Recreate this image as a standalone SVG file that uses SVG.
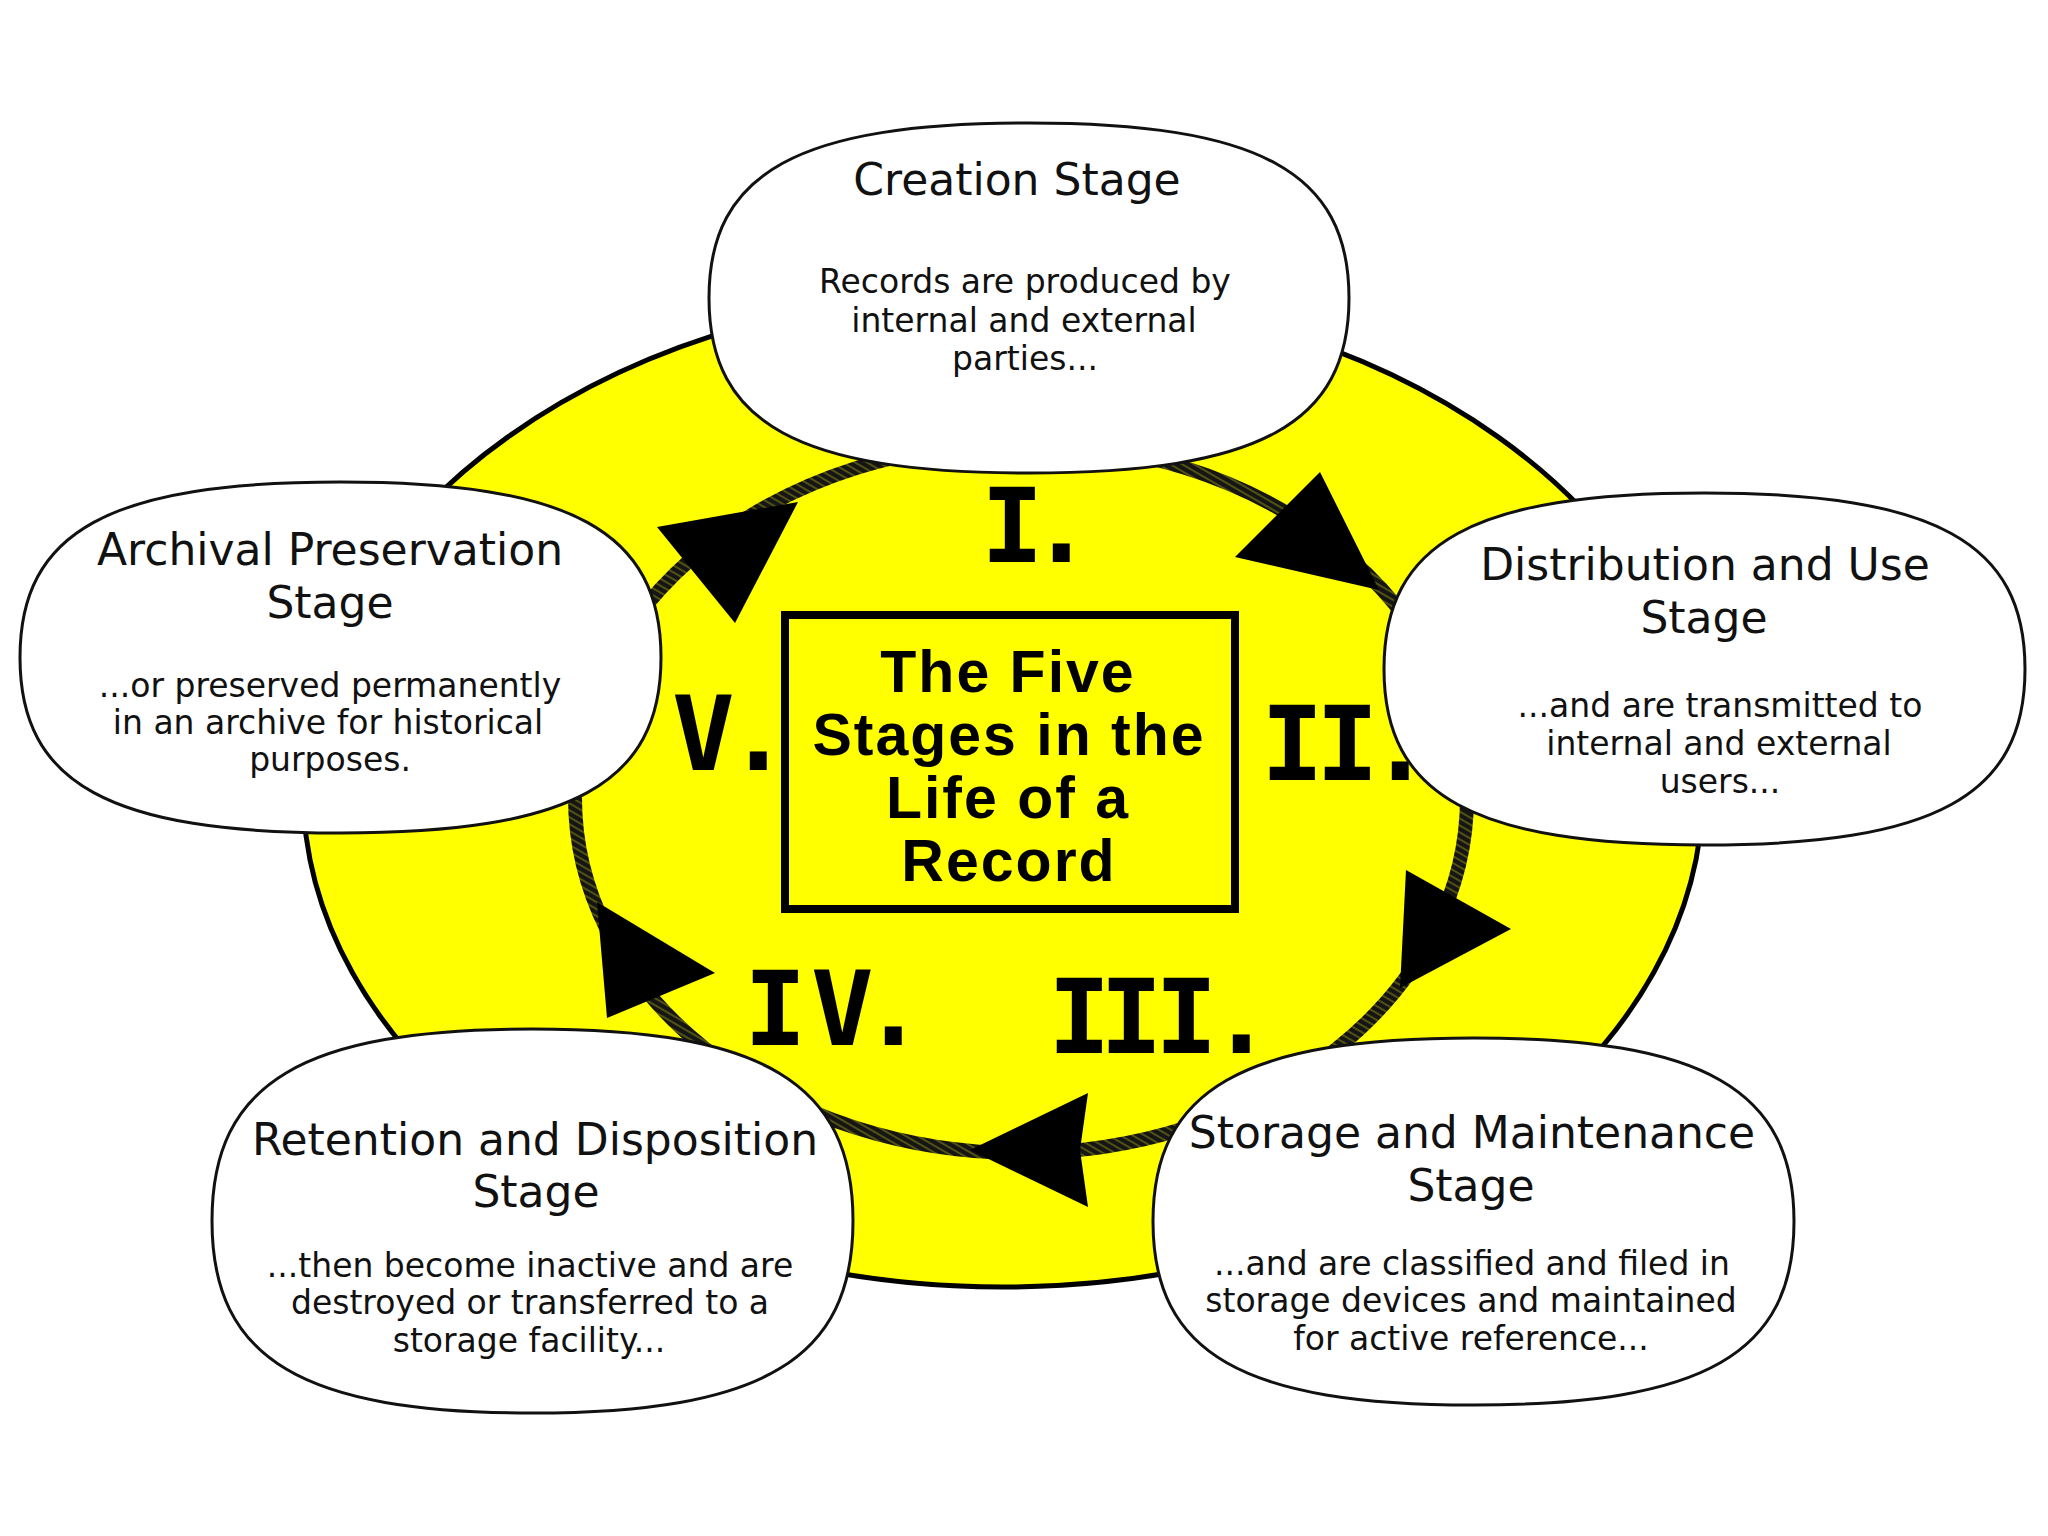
<svg xmlns="http://www.w3.org/2000/svg" width="2048" height="1536" viewBox="0 0 2048 1536">
<defs>
<pattern id="pencil" width="6" height="6" patternUnits="userSpaceOnUse" patternTransform="rotate(30)">
<rect width="6" height="6" fill="#151515"/>
<line x1="0" y1="3" x2="6" y2="3" stroke="#7a7a10" stroke-width="1.2"/>
</pattern>
</defs>
<style>
.bubble{fill:#fff;stroke:#111;stroke-width:3}
.title{font-family:"DejaVu Sans",Verdana,sans-serif;font-size:44px;fill:#111;text-anchor:middle}
.body{font-family:"DejaVu Sans",Verdana,sans-serif;font-size:33px;fill:#111;text-anchor:middle}
.num{font-family:"DejaVu Sans Mono",monospace;font-weight:bold;font-size:104px;fill:#000}
.center{font-family:"Liberation Sans",Arial,sans-serif;font-weight:bold;font-size:59px;letter-spacing:2px;fill:#000;text-anchor:middle}
.arrow{fill:#000}
</style>
<rect width="2048" height="1536" fill="#fff"/>
<g id="background">
<ellipse cx="1003" cy="789" rx="700" ry="498" fill="#ffff00" stroke="#000" stroke-width="5"/>
</g>
<g id="connectors">
<ellipse cx="1021" cy="798" rx="446" ry="355" fill="none" stroke="url(#pencil)" stroke-width="14"/>
<polygon class="arrow" points="1320,472 1235,557 1379,590"/>
<polygon class="arrow" points="1406,870 1511,929 1400,988"/>
<polygon class="arrow" points="1088,1093 970,1150 1088,1207 1080,1150"/>
<polygon class="arrow" points="597,902 715,973 607,1018"/>
<polygon class="arrow" points="657,527 798,502 735,623"/>
</g>
<g id="numerals">
<text class="num" x="981 1030" y="562">I.</text>
<text class="num" x="1261 1316 1369" y="780">II.</text>
<text class="num" x="1048 1100 1155 1210" y="1053">III.</text>
<text class="num" x="744 811 862" y="1045">IV.</text>
<text class="num" x="672 727" y="770">V.</text>
</g>
<g id="center-box">
<rect x="785" y="615" width="450" height="294" fill="#ffff00" stroke="#000" stroke-width="8"/>
<text class="center" x="1008" y="692">The Five</text>
<text class="center" x="1009" y="755">Stages in the</text>
<text class="center" x="1008" y="818">Life of a</text>
<text class="center" x="1009" y="881">Record</text>
</g>
<g id="creation">
<path class="bubble" d="M1029,123 C1259.4,123 1349,172 1349,298 C1349,424 1259.4,473 1029,473 C798.6,473 709,424 709,298 C709,172 798.6,123 1029,123Z"/>
<text class="title" x="1017" y="195">Creation Stage</text>
<text class="body" x="1025" y="293">Records are produced by</text>
<text class="body" x="1024" y="332">internal and external</text>
<text class="body" x="1025" y="370">parties...</text>
</g>
<g id="distribution">
<path class="bubble" d="M1704.5,493 C1935.3,493 2025,542.3 2025,669 C2025,795.7 1935.3,845 1704.5,845 C1473.7,845 1384,795.7 1384,669 C1384,542.3 1473.7,493 1704.5,493Z"/>
<text class="title" x="1705" y="580">Distribution and Use</text>
<text class="title" x="1704" y="633">Stage</text>
<text class="body" x="1720" y="717">...and are transmitted to</text>
<text class="body" x="1719" y="755">internal and external</text>
<text class="body" x="1720" y="793">users...</text>
</g>
<g id="storage">
<path class="bubble" d="M1473.5,1038 C1704.3,1038 1794,1089.4 1794,1221.5 C1794,1353.6 1704.3,1405 1473.5,1405 C1242.7,1405 1153,1353.6 1153,1221.5 C1153,1089.4 1242.7,1038 1473.5,1038Z"/>
<text class="title" x="1472" y="1148">Storage and Maintenance</text>
<text class="title" x="1471" y="1201">Stage</text>
<text class="body" x="1472" y="1275">...and are classified and filed in</text>
<text class="body" x="1471" y="1312">storage devices and maintained</text>
<text class="body" x="1471" y="1350">for active reference...</text>
</g>
<g id="retention">
<path class="bubble" d="M532.5,1029 C763.3,1029 853,1082.8 853,1221 C853,1359.2 763.3,1413 532.5,1413 C301.7,1413 212,1359.2 212,1221 C212,1082.8 301.7,1029 532.5,1029Z"/>
<text class="title" x="535" y="1155">Retention and Disposition</text>
<text class="title" x="536" y="1207">Stage</text>
<text class="body" x="530" y="1277">...then become inactive and are</text>
<text class="body" x="530" y="1314">destroyed or transferred to a</text>
<text class="body" x="529" y="1352">storage facility...</text>
</g>
<g id="archival">
<path class="bubble" d="M340.5,482 C571.3,482 661,531.1 661,657.5 C661,783.9 571.3,833 340.5,833 C109.7,833 20,783.9 20,657.5 C20,531.1 109.7,482 340.5,482Z"/>
<text class="title" x="330" y="565">Archival Preservation</text>
<text class="title" x="330" y="618">Stage</text>
<text class="body" x="330" y="697">...or preserved permanently</text>
<text class="body" x="328" y="734">in an archive for historical</text>
<text class="body" x="330" y="771">purposes.</text>
</g>
</svg>
